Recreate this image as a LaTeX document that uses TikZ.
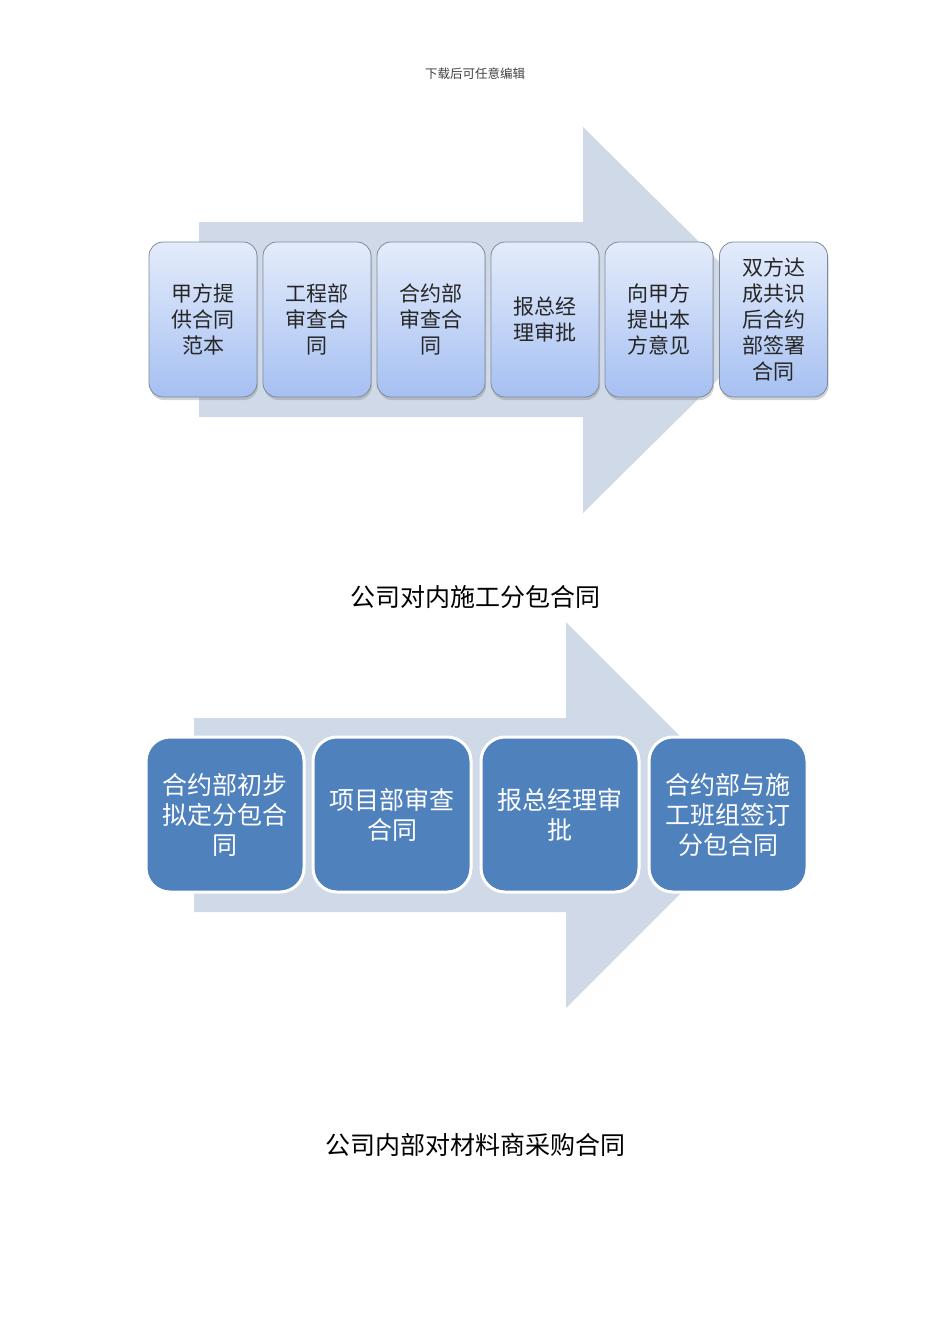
\documentclass[tikz,border=0pt]{standalone}
\usepackage{fontspec}
\setmainfont{Noto Sans CJK SC}
\usetikzlibrary{shadows}
\definecolor{arrowfill}{HTML}{D0D9E7}
\definecolor{gtop}{HTML}{E4ECFB}
\definecolor{gbot}{HTML}{A6C0F2}
\definecolor{bluebox}{HTML}{4F81BD}
\definecolor{edgegray}{HTML}{7F8A99}
\begin{document}
\begin{tikzpicture}[x=1pt,y=-1pt,
  bigarrow/.style={fill=arrowfill,draw=none},
  lightbox/.style={draw=edgegray,line width=0.8pt,rounded corners=14pt,
    top color=gtop,bottom color=gbot,minimum width=108pt,minimum height=155pt,
    inner sep=0pt,text width=100pt,align=center,
    font=\fontsize{21}{26}\selectfont,text=black!85,
    drop shadow={opacity=0.35,shadow xshift=1pt,shadow yshift=-3pt}},
  darkbox/.style={draw=white,line width=3pt,rounded corners=24pt,fill=bluebox,
    minimum width=158pt,minimum height=155pt,inner sep=0pt,text width=150pt,
    align=center,font=\fontsize{25}{30}\selectfont,text=white,
    drop shadow={opacity=0.15,shadow xshift=0pt,shadow yshift=-1pt}},
  caption/.style={font=\fontsize{25}{30}\selectfont,text=black},
  header/.style={font=\fontsize{12.5}{15}\selectfont,text=black!75}]
\useasboundingbox (0,0) rectangle (950,1344);
\node[header] (hdr) at (475,74) {下载后可任意编辑};
% arrow 1
\fill[bigarrow] (199,222) -- (583,222) -- (583,127) -- (778,320) -- (583,513) -- (583,417) -- (199,417) -- cycle;
\node[lightbox] (a1) at (203,319.5) {甲方提\\供合同\\范本};
\node[lightbox] (a2) at (317,319.5) {工程部\\审查合\\同};
\node[lightbox] (a3) at (431,319.5) {合约部\\审查合\\同};
\node[lightbox] (a4) at (545,319.5) {报总经\\理审批};
\node[lightbox] (a5) at (659,319.5) {向甲方\\提出本\\方意见};
\node[lightbox] (a6) at (773.5,319.5) {双方达\\成共识\\后合约\\部签署\\合同};
\node[caption] (c1) at (475,597) {公司对内施工分包合同};
% arrow 2
\fill[bigarrow] (194,718) -- (566,718) -- (566,622) -- (759,815) -- (566,1008) -- (566,912) -- (194,912) -- cycle;
\node[darkbox] (b1) at (225,814.5) {合约部初步\\拟定分包合\\同};
\node[darkbox] (b2) at (392,814.5) {项目部审查\\合同};
\node[darkbox] (b3) at (560,814.5) {报总经理审\\批};
\node[darkbox] (b4) at (728,814.5) {合约部与施\\工班组签订\\分包合同};
\node[caption] (c2) at (475,1145) {公司内部对材料商采购合同};
\end{tikzpicture}
\end{document}
